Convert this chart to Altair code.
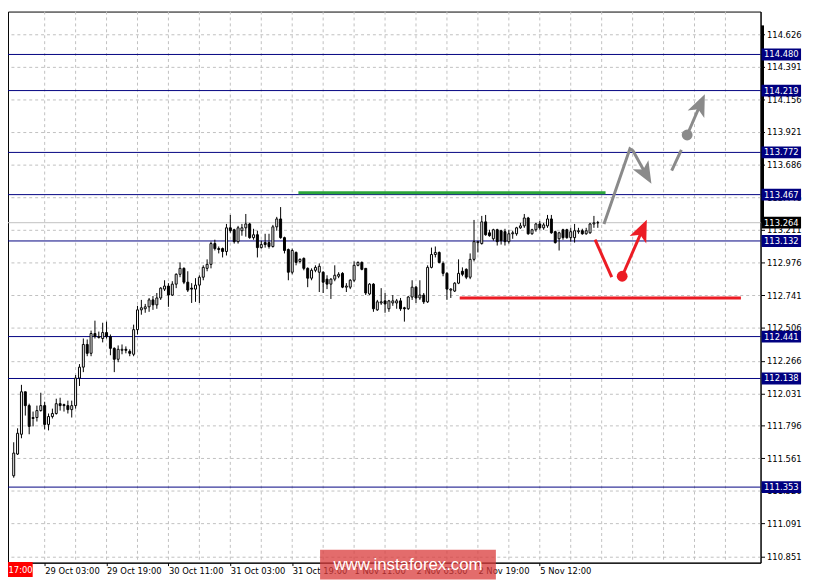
import altair as alt
import pandas as pd

# ---------------- data ----------------
opens = [111.435, 111.592, 111.735, 112.042, 111.942, 111.856, 111.856, 111.906, 111.942, 111.806,
         111.863, 111.885, 111.956, 111.949, 111.942, 111.913, 111.942, 112.141, 112.220, 112.384,
         112.320, 112.463, 112.434, 112.427, 112.470, 112.441, 112.356, 112.277, 112.342, 112.349,
         112.334, 112.313, 112.491, 112.634, 112.642, 112.656, 112.706, 112.670, 112.720, 112.784,
         112.806, 112.741, 112.820, 112.891, 112.934, 112.834, 112.791, 112.784, 112.813, 112.870,
         112.934, 112.963, 113.113, 113.077, 113.077, 113.056, 113.227, 113.213, 113.127, 113.206,
         113.227, 113.255, 113.156, 113.177, 113.084, 113.120, 113.120, 113.092, 113.234, 113.291,
         113.156, 113.070, 112.906, 113.049, 112.984, 113.006, 112.934, 112.863, 112.920, 112.906,
         112.906, 112.856, 112.820, 112.856, 112.877, 112.898, 112.798, 112.798, 112.848, 112.956,
         112.977, 112.934, 112.749, 112.820, 112.634, 112.684, 112.699, 112.642, 112.684, 112.684,
         112.699, 112.649, 112.642, 112.727, 112.798, 112.720, 112.741, 112.692, 112.941, 113.034,
         113.049, 112.970, 112.898, 112.777, 112.770, 112.827, 112.913, 112.927, 112.870, 112.999,
         113.120, 113.113, 113.270, 113.191, 113.148, 113.213, 113.206, 113.199, 113.127, 113.184,
         113.184, 113.227, 113.241, 113.298, 113.184, 113.213, 113.255, 113.227, 113.241, 113.291,
         113.199, 113.148, 113.213, 113.213, 113.156, 113.156, 113.199, 113.206, 113.184, 113.191,
         113.255, 113.263]
highs = [111.677, 111.778, 112.092, 112.042, 111.956, 111.899, 111.942, 112.035, 111.970, 111.885,
         111.920, 111.992, 111.999, 111.956, 111.978, 111.978, 112.163, 112.242, 112.427, 112.420,
         112.484, 112.556, 112.477, 112.541, 112.549, 112.456, 112.363, 112.377, 112.384, 112.370,
         112.349, 112.527, 112.663, 112.706, 112.677, 112.720, 112.734, 112.756, 112.798, 112.848,
         112.827, 112.841, 112.898, 112.977, 112.941, 112.913, 112.827, 112.863, 112.884, 112.956,
         112.999, 113.127, 113.141, 113.092, 113.084, 113.255, 113.320, 113.220, 113.241, 113.255,
         113.327, 113.263, 113.220, 113.206, 113.134, 113.184, 113.184, 113.248, 113.306, 113.377,
         113.163, 113.077, 113.077, 113.056, 113.006, 113.013, 112.941, 112.934, 112.956, 112.970,
         112.913, 112.884, 112.863, 112.956, 112.906, 112.906, 112.827, 112.856, 112.984, 112.984,
         112.984, 112.934, 112.827, 112.827, 112.706, 112.791, 112.756, 112.706, 112.741, 112.713,
         112.720, 112.656, 112.734, 112.848, 112.806, 112.848, 112.756, 112.956, 113.084, 113.092,
         113.056, 112.984, 112.906, 112.791, 112.834, 112.999, 112.941, 112.934, 113.042, 113.284,
         113.134, 113.313, 113.320, 113.213, 113.220, 113.220, 113.213, 113.220, 113.213, 113.206,
         113.234, 113.263, 113.327, 113.306, 113.220, 113.263, 113.277, 113.263, 113.320, 113.320,
         113.206, 113.199, 113.220, 113.220, 113.227, 113.255, 113.227, 113.220, 113.227, 113.263,
         113.313, 113.277]
lows = [111.421, 111.585, 111.706, 111.870, 111.735, 111.792, 111.827, 111.899, 111.770, 111.763,
        111.849, 111.877, 111.906, 111.899, 111.885, 111.856, 111.920, 112.084, 112.184, 112.299,
        112.299, 112.427, 112.427, 112.399, 112.427, 112.306, 112.184, 112.256, 112.313, 112.320,
        112.299, 112.299, 112.456, 112.599, 112.613, 112.620, 112.634, 112.642, 112.706, 112.770,
        112.656, 112.734, 112.791, 112.870, 112.820, 112.763, 112.684, 112.692, 112.684, 112.848,
        112.913, 112.934, 113.063, 113.042, 113.013, 113.027, 113.191, 113.113, 113.113, 113.170,
        113.163, 113.148, 113.141, 113.013, 113.077, 113.084, 113.077, 113.084, 113.206, 113.148,
        113.042, 112.848, 112.891, 112.956, 112.970, 112.920, 112.798, 112.848, 112.906, 112.763,
        112.756, 112.784, 112.713, 112.841, 112.863, 112.791, 112.763, 112.784, 112.834, 112.949,
        112.920, 112.741, 112.741, 112.620, 112.627, 112.670, 112.613, 112.620, 112.663, 112.642,
        112.627, 112.549, 112.634, 112.706, 112.684, 112.706, 112.677, 112.684, 112.934, 113.013,
        112.970, 112.877, 112.706, 112.720, 112.763, 112.820, 112.877, 112.856, 112.856, 112.984,
        113.049, 113.106, 113.170, 113.163, 113.134, 113.099, 113.106, 113.099, 113.113, 113.148,
        113.170, 113.220, 113.227, 113.177, 113.177, 113.199, 113.213, 113.213, 113.227, 113.184,
        113.113, 113.063, 113.141, 113.148, 113.127, 113.120, 113.184, 113.177, 113.177, 113.184,
        113.227, 113.227]
closes = [111.599, 111.742, 112.042, 111.942, 111.792, 111.849, 111.906, 111.942, 111.806, 111.863,
          111.885, 111.956, 111.942, 111.942, 111.913, 111.942, 112.141, 112.220, 112.384, 112.320,
          112.463, 112.441, 112.441, 112.470, 112.441, 112.356, 112.277, 112.349, 112.349, 112.342,
          112.320, 112.491, 112.634, 112.649, 112.656, 112.706, 112.670, 112.720, 112.791, 112.806,
          112.741, 112.820, 112.891, 112.934, 112.834, 112.777, 112.784, 112.813, 112.870, 112.941,
          112.963, 113.113, 113.077, 113.070, 113.056, 113.227, 113.206, 113.127, 113.227, 113.227,
          113.255, 113.156, 113.177, 113.084, 113.106, 113.106, 113.092, 113.234, 113.291, 113.156,
          113.063, 112.906, 113.063, 112.977, 112.999, 112.934, 112.863, 112.920, 112.941, 112.949,
          112.834, 112.820, 112.856, 112.884, 112.891, 112.798, 112.806, 112.848, 112.956, 112.977,
          112.927, 112.756, 112.820, 112.642, 112.692, 112.692, 112.677, 112.699, 112.699, 112.699,
          112.642, 112.642, 112.727, 112.798, 112.720, 112.741, 112.692, 112.941, 113.034, 113.049,
          112.977, 112.898, 112.784, 112.784, 112.827, 112.898, 112.891, 112.870, 112.999, 113.127,
          113.127, 113.270, 113.177, 113.170, 113.213, 113.127, 113.134, 113.127, 113.184, 113.191,
          113.227, 113.241, 113.298, 113.184, 113.213, 113.255, 113.227, 113.248, 113.291, 113.191,
          113.120, 113.191, 113.156, 113.156, 113.199, 113.206, 113.206, 113.184, 113.206, 113.255,
          113.263, 113.264]

tick_prices = [114.626, 114.391, 114.156, 113.921, 113.686, 113.446, 113.211, 112.976, 112.741,
               112.506, 112.266, 112.031, 111.796, 111.561, 111.326, 111.091, 110.851]
level_prices = [114.480, 114.219, 113.772, 113.467, 113.132, 112.441, 112.138, 111.353]
current_price = 113.264
price_range_top = 114.69

time_label_bars = [8, 24, 40, 56, 72, 88, 104, 120, 136]
time_labels = ["29 Oct 03:00", "29 Oct 19:00", "30 Oct 11:00", "31 Oct 03:00", "31 Oct 19:00",
               "1 Nov 11:00", "2 Nov 03:00", "2 Nov 19:00", "5 Nov 12:00"]
first_time_label = "26 Oct 17:00"
grid_bars = [8, 16, 24, 32, 40, 48, 56, 64, 72, 80, 88, 96, 104, 112, 120, 128, 136, 144, 152,
             160, 168, 176, 184]

# forecast zones (green resistance, red support)
zone_start = [73.6, 115.3]
zone_end = [153.0, 188.0]
zone_price = [113.48, 112.72]
zone_color = ["#2aa53a", "#ec1c24"]

# forecast arrows: (bar position, price)
gray_path_bars = [152.6, 159.3, 160.1, 163.3]
gray_path_prices = [113.255, 113.798, 113.783, 113.622]
gray_dash_bars = [170.1, 172.6]
gray_dash_prices = [113.641, 113.791]
gray_up_bars = [174.1, 177.4]
gray_up_prices = [113.898, 114.112]
red_path_bars = [150.3, 154.6]
red_path_prices = [113.141, 112.870]
red_up_bars = [157.3, 162.4]
red_up_prices = [112.877, 113.205]
dot_bars = [174.1, 157.3]
dot_prices = [113.898, 112.877]
dot_colors = ["#8a8a8a", "#ec1c24"]
head_bars = [163.3, 177.4, 162.4]
head_prices = [113.622, 114.112, 113.205]
head_angles = [150, 24, 24]
head_colors = ["#8a8a8a", "#8a8a8a", "#ec1c24"]

# ---------------- chart ----------------
W, H = 762, 558
FONT = "DejaVu Sans"
FS = 8.5
GRAY = "#8a8a8a"
RED = "#ec1c24"
NAVY = "#000080"

xs = alt.Scale(domain=[-0.2, 191.8], nice=False, zero=False)
ys = alt.Scale(domain=[110.807, 114.790], nice=False, zero=False)

label_expr = ("[" + ",".join(f"'{t}'" for t in time_labels) + "][indexof(["
              + ",".join(str(b) for b in time_label_bars) + "], datum.value)]")

x_axis = alt.Axis(values=time_label_bars, labelExpr=label_expr, grid=False, orient="bottom",
                  tickSize=3, tickColor="black", domainColor="black", labelAlign="left",
                  labelBaseline="top", labelPadding=1, labelFont=FONT, labelFontSize=FS,
                  labelColor="black", labelOverlap=False, labelFlush=False, title=None)
y_axis = alt.Axis(values=tick_prices, format=".3f", orient="right", grid=True, gridDash=[3, 3],
                  gridColor="#c0c0c0", gridOpacity=1, tickSize=4, tickColor="black",
                  domainColor="black", labelPadding=2, labelFont=FONT, labelFontSize=FS,
                  labelColor="black", labelOverlap=False, labelFlush=False, labelBound=False,
                  title=None)


def X(f):
    return alt.X(f, type="quantitative", scale=xs, axis=x_axis)


def Y(f):
    return alt.Y(f, type="quantitative", scale=ys, axis=y_axis)


candles = pd.DataFrame({"i": list(range(len(opens))), "o": opens, "h": highs, "l": lows, "c": closes})
candles["fill"] = ["white" if c > o else "black" for o, c in zip(opens, closes)]

grid_df = pd.DataFrame({"b": grid_bars})
levels_df = pd.DataFrame({"p": level_prices})
cur_df = pd.DataFrame({"p": [current_price]})
zones_df = pd.DataFrame({"x": zone_start, "x2": zone_end, "p": zone_price, "col": zone_color})

rows = []
for seg, (bs, ps, col) in enumerate([(gray_path_bars, gray_path_prices, GRAY),
                                      (gray_dash_bars, gray_dash_prices, GRAY),
                                      (gray_up_bars, gray_up_prices, GRAY),
                                      (red_path_bars, red_path_prices, RED),
                                      (red_up_bars, red_up_prices, RED)]):
    for k, (b, p) in enumerate(zip(bs, ps)):
        rows.append({"seg": seg, "ord": k, "b": b, "p": p, "col": col})
arrows_df = pd.DataFrame(rows)
dots_df = pd.DataFrame({"b": dot_bars, "p": dot_prices, "col": dot_colors})
heads_df = pd.DataFrame({"b": head_bars, "p": head_prices, "ang": head_angles, "col": head_colors})

box_df = pd.DataFrame({
    "p": level_prices + [current_price],
    "lab": [f"{p:.3f}" for p in level_prices] + [f"{current_price:.3f}"],
    "bg": [NAVY] * len(level_prices) + ["black"],
})
range_df = pd.DataFrame({"top": [price_range_top], "bot": [current_price]})
one = pd.DataFrame({"k": [0]})

ARROW = "M0,-1L0.75,0.8L0,0.35L-0.75,0.8Z"

grid_layer = alt.Chart(grid_df).mark_rule(color="#c0c0c0", strokeDash=[3, 3], strokeWidth=1).encode(x=X("b"))
level_layer = alt.Chart(levels_df).mark_rule(color=NAVY, strokeWidth=1).encode(y=Y("p"))
cur_layer = alt.Chart(cur_df).mark_rule(color="#c0c0c0", strokeWidth=1).encode(y=Y("p"))
zone_layer = alt.Chart(zones_df).mark_rule(strokeWidth=3).encode(
    x=X("x"), x2=alt.X2("x2"), y=Y("p"), color=alt.Color("col:N", scale=None))
wick_layer = alt.Chart(candles).mark_rule(color="black", strokeWidth=1).encode(
    x=X("i"), y=Y("l"), y2=alt.Y2("h"))
body_layer = alt.Chart(candles).mark_bar(width=2, stroke="black", strokeWidth=1).encode(
    x=X("i"), y=Y("o"), y2=alt.Y2("c"), fill=alt.Fill("fill:N", scale=None))
arrow_layer = alt.Chart(arrows_df).mark_line(strokeWidth=3).encode(
    x=X("b"), y=Y("p"), detail="seg:N", order="ord:Q", color=alt.Color("col:N", scale=None))
dot_layer = alt.Chart(dots_df).mark_point(filled=True, size=120, opacity=1, shape="circle").encode(
    x=X("b"), y=Y("p"), color=alt.Color("col:N", scale=None))
head_layer = alt.Chart(heads_df).mark_point(filled=True, size=600, opacity=1, shape=ARROW).encode(
    x=X("b"), y=Y("p"), color=alt.Color("col:N", scale=None), angle=alt.Angle("ang:Q", scale=None))
range_layer = alt.Chart(range_df).mark_rule(color="black", strokeWidth=3).encode(
    x=alt.value(W + 2), y=Y("top"), y2=alt.Y2("bot"))
box_layer = alt.Chart(box_df).mark_point(shape="M-1,-0.3H1V0.3H-1Z", size=1600, filled=True,
                                          opacity=1, strokeWidth=0).encode(
    x=alt.value(W + 21), y=Y("p"), color=alt.Color("bg:N", scale=None))
box_text = alt.Chart(box_df).mark_text(color="white", font=FONT, fontSize=FS, align="center",
                                       baseline="middle").encode(
    x=alt.value(W + 21), y=Y("p"), text="lab:N")
first_box = alt.Chart(one).mark_point(shape="M-1,-0.45H1V0.45H-1Z", size=1156, filled=True,
                                      opacity=1, strokeWidth=0, color="#ff0000").encode(
    x=alt.value(8), y=alt.value(H + 7))
first_text = alt.Chart(one).mark_text(text=first_time_label, color="white", font=FONT, fontSize=FS,
                                      align="right", baseline="middle").encode(
    x=alt.value(25), y=alt.value(H + 7))
wm_box = alt.Chart(one).mark_point(shape="M-1,-0.169H1V0.169H-1Z", size=31684, filled=True,
                                   opacity=0.75, strokeWidth=0, color="#d93b3b").encode(
    x=alt.value(405), y=alt.value(H + 2))
wm_text = alt.Chart(one).mark_text(text="www.instaforex.com", color="white", font="Liberation Sans",
                                   fontSize=17, align="center", baseline="middle").encode(
    x=alt.value(405), y=alt.value(H + 2))

chart = alt.layer(
    grid_layer, level_layer, cur_layer, zone_layer, wick_layer, body_layer,
    arrow_layer, dot_layer, head_layer, range_layer, box_layer, box_text,
    first_box, first_text, wm_box, wm_text,
).properties(
    width=W, height=H,
    autosize=alt.AutoSizeParams(type="none"),
    padding={"left": 0, "top": 0, "right": 45, "bottom": 17},
    background="white",
).configure_view(stroke="black", strokeWidth=1)

chart.save("out.html", embed_options={"renderer": "svg", "actions": False})
